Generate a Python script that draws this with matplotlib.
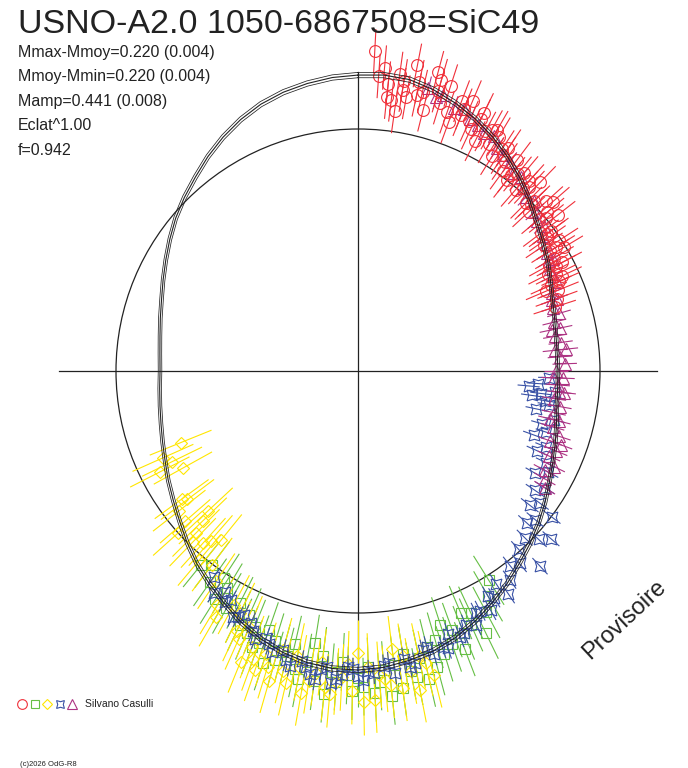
import numpy as np
import matplotlib.pyplot as plt
from matplotlib.collections import LineCollection
from matplotlib.patches import Circle

plt.rcParams['font.family'] = ['Liberation Sans', 'DejaVu Sans']

# Courbe modele : phase (degres) et ecart en magnitude
model_phase = [0, 5, 10, 15, 20, 25, 30, 35, 40, 45, 50, 55, 60, 65, 70, 75, 80, 85,
               90, 95, 100, 105, 110, 115, 120, 125, 130, 135, 140, 145, 150, 155, 160, 165, 170, 175,
               180, 185, 190, 195, 200, 205, 210, 215, 220, 225, 230, 235, 240, 245, 250, 255, 260, 265,
               270, 275, 280, 285, 290, 295, 300, 305, 310, 315, 320, 325, 330, 335, 340, 345, 350, 355]
model_dm = [-0.221, -0.226, -0.221, -0.200, -0.172, -0.140, -0.104, -0.064, -0.023, 0.020, 0.062, 0.096,
            0.125, 0.155, 0.179, 0.195, 0.206, 0.211, 0.211, 0.209, 0.202, 0.186, 0.166, 0.143,
            0.116, 0.083, 0.049, 0.015, -0.019, -0.058, -0.095, -0.133, -0.167, -0.194, -0.212, -0.228,
            -0.235, -0.233, -0.221, -0.200, -0.172, -0.136, -0.095, -0.057, -0.019, 0.022, 0.062, 0.096,
            0.125, 0.153, 0.175, 0.193, 0.206, 0.215, 0.220, 0.216, 0.206, 0.190, 0.170, 0.143,
            0.112, 0.077, 0.040, 0.006, -0.028, -0.067, -0.104, -0.138, -0.167, -0.188, -0.203, -0.215]

# Mesures (phase en degres, ecart en magnitude)
red_phase = [3, 4, 5, 6, 6, 7, 8, 8, 9, 10, 11, 12, 13, 14, 15, 16, 17, 18, 19, 20,
             21, 22, 23, 24, 25, 26, 27, 28, 29, 30, 31, 32, 33, 34, 35, 36, 37, 38, 39, 40,
             41, 42, 43, 44, 45, 46, 47, 48, 49, 50, 51, 52, 53, 54, 55, 56, 57, 58, 59, 60,
             61, 62, 63, 64, 65, 66, 67, 68, 70, 72,
             22, 26, 30, 34, 38, 42, 46, 50, 54, 58, 62, 66, 9, 12, 16]
red_dm = [-0.33, -0.22, -0.26, -0.19, -0.13, -0.12, -0.07, -0.24, -0.17, -0.14,
          -0.29, -0.22, -0.18, -0.10, -0.28, -0.20, -0.15, -0.24, -0.12, -0.08,
          -0.19, -0.16, -0.21, -0.12, -0.09, -0.15, -0.05, -0.11, -0.13, -0.07,
          -0.12, -0.03, -0.08, -0.10, -0.04, 0.00, -0.08, 0.02, -0.03, -0.05,
          0.03, 0.00, -0.02, -0.07, 0.04, 0.01, 0.06, -0.03, -0.05, 0.05,
          0.02, -0.03, 0.08, 0.04, 0.07, 0.10, 0.03, 0.06, 0.03, 0.09,
          0.13, 0.10, 0.15, 0.12, 0.10, 0.16, 0.19, 0.14, 0.16, 0.18,
          -0.13, -0.18, -0.14, -0.06, -0.01, -0.04, 0.03, 0.00, 0.06, 0.09, 0.07, 0.12, -0.21, -0.16, -0.25]

mag_phase = [14, 16, 17, 20, 22, 24, 26, 28, 30, 32, 34, 36, 38, 40, 42, 44, 46, 48, 50, 52,
             54, 56, 58, 60, 62, 64, 66, 68, 70, 72, 74, 76, 78, 80, 82, 84, 86, 88, 90, 92,
             94, 96, 98, 100, 102, 104, 106, 108, 110, 112, 114, 116, 118, 120, 122,
             60, 70, 78, 84, 92, 96, 104, 110]
mag_dm = [-0.20, -0.17, -0.19, -0.15, -0.16, -0.13, -0.12, -0.10, -0.11, -0.07,
          -0.06, -0.05, -0.02, -0.03, 0.00, 0.02, 0.01, 0.04, 0.06, 0.05,
          0.08, 0.09, 0.11, 0.10, 0.13, 0.14, 0.13, 0.17, 0.16, 0.19,
          0.17, 0.20, 0.18, 0.21, 0.19, 0.22, 0.20, 0.18, 0.22, 0.19,
          0.21, 0.18, 0.22, 0.19, 0.21, 0.18, 0.20, 0.16, 0.19, 0.15,
          0.17, 0.13, 0.16, 0.14, 0.12,
          0.12, 0.18, 0.22, 0.17, 0.23, 0.20, 0.22, 0.14]

blue_phase = [92, 94, 95, 96, 97, 98, 99, 100, 102, 104, 106, 108, 110, 112, 114, 116, 118, 120, 122, 124,
              126, 127, 128, 130, 131, 132, 133, 135, 137, 138, 140, 142, 144, 146, 147, 149, 151, 153, 155, 157,
              159, 161, 163, 165, 167, 169, 171, 173, 175, 177, 179, 181, 183, 185, 187, 189, 191, 193, 195, 197,
              199, 201, 203, 205, 207, 209, 211, 213, 215,
              150, 154, 158, 162, 166, 170, 174, 178, 180, 182, 184, 186, 188, 190, 194, 198, 202, 206, 210]
blue_dm = [0.25, 0.30, 0.34, 0.22, 0.28, 0.32, 0.26, 0.24, 0.29, 0.20,
           0.25, 0.22, 0.27, 0.20, 0.23, 0.17, 0.14, 0.19, 0.12, 0.15,
           0.10, 0.02, 0.13, 0.07, -0.04, 0.09, 0.00, 0.05, -0.09, 0.03,
           -0.02, 0.00, -0.05, -0.10, -0.03, -0.08, -0.12, -0.10, -0.15, -0.13,
           -0.17, -0.14, -0.19, -0.21, -0.18, -0.23, -0.20, -0.26, -0.22, -0.25,
           -0.28, -0.23, -0.26, -0.30, -0.24, -0.27, -0.22, -0.25, -0.19, -0.21,
           -0.16, -0.18, -0.12, -0.10, -0.13, -0.07, -0.05, -0.08, -0.02,
           -0.06, -0.10, -0.16, -0.20, -0.17, -0.24, -0.21, -0.24, -0.26, -0.22,
           -0.28, -0.23, -0.29, -0.24, -0.23, -0.18, -0.15, -0.12, -0.09]

green_phase = [148, 150, 152, 154, 155, 157, 158, 160, 161, 162, 163, 165, 166, 167, 168, 170, 171, 172, 174, 175,
               176, 178, 179, 180, 181, 183, 184, 185, 187, 188, 189, 190, 192, 193, 195, 196, 197, 199, 200, 202,
               204, 205, 207, 209, 211, 213, 215, 217, 219,
               156, 159, 164, 169, 173, 177, 182, 186, 191, 194, 198, 201, 203, 206, 210, 212]
green_dm = [0.00, -0.06, -0.12, -0.20, -0.09, -0.07, -0.16, -0.13, -0.19, -0.09,
            -0.22, -0.27, -0.17, -0.31, -0.21, -0.26, -0.18, -0.33, -0.36, -0.24,
            -0.29, -0.22, -0.31, -0.27, -0.33, -0.20, -0.29, -0.25, -0.18, -0.30,
            -0.13, -0.22, -0.26, -0.15, -0.20, -0.24, -0.16, -0.12, -0.19, -0.13,
            -0.09, -0.15, -0.06, -0.11, -0.03, 0.00, -0.05, 0.02, -0.01,
            -0.14, -0.23, -0.15, -0.29, -0.22, -0.34, -0.26, -0.35, -0.30, -0.21,
            -0.27, -0.22, -0.17, -0.12, -0.07, -0.10]

yellow_phase = [166, 168, 170, 172, 173, 175, 177, 178, 180, 181, 183, 185, 187, 189, 191, 193, 195, 197, 199, 201,
                203, 205, 208, 211, 214, 217, 219, 220, 222, 224, 226, 227, 229, 232, 234, 241, 243, 246, 248,
                167, 169, 171, 174, 176, 179, 182, 184, 186, 188, 190, 192, 194, 196, 198, 200, 202, 204, 206, 210,
                221, 225, 228, 233, 244]
yellow_dm = [-0.30, -0.20, -0.26, -0.33, -0.15, -0.28, -0.37, -0.22, -0.16, -0.33,
             -0.27, -0.35, -0.21, -0.30, -0.25, -0.33, -0.19, -0.28, -0.31, -0.22,
             -0.14, -0.18, -0.08, -0.12, -0.03, 0.02, 0.13, 0.00, 0.07, 0.04,
             0.14, 0.19, 0.08, 0.09, 0.13, 0.21, 0.11, 0.15, 0.25,
             -0.24, -0.35, -0.19, -0.31, -0.26, -0.38, -0.21, -0.29, -0.32, -0.26,
             -0.36, -0.20, -0.28, -0.34, -0.23, -0.27, -0.30, -0.21, -0.10, -0.17,
             0.10, 0.08, 0.02, 0.15, 0.18]

# erreur typique par serie (mag)
red_err, mag_err, blue_err, green_err, yellow_err = 0.10, 0.055, 0.05, 0.13, 0.15

# rayon = R0 - K * dm (le cercle de reference a rayon 1)
R0, K = 1.02, 0.918


def polar_xy(phase, dm):
    th = np.radians(np.asarray(phase, dtype=float))
    r = R0 - K * np.asarray(dm, dtype=float)
    return r * np.sin(th), r * np.cos(th)


def radial_bars(phase, dm, err):
    th = np.radians(np.asarray(phase, dtype=float))
    dm = np.asarray(dm, dtype=float)
    r1 = R0 - K * (dm + err)
    r2 = R0 - K * (dm - err)
    return [[(a * np.sin(t), a * np.cos(t)), (b * np.sin(t), b * np.cos(t))]
            for t, a, b in zip(th, r1, r2)]


fig = plt.figure(figsize=(6.88, 7.68), dpi=100)
ax = fig.add_axes([0, 0, 1, 1])
ax.set_xlim(-358 / 242, 330 / 242)
ax.set_ylim(-397 / 242, 371 / 242)
ax.axis('off')

# axes et cercle de reference
ext = 1.235
ax.plot([-ext, ext], [0, 0], color='#222222', lw=0.9, zorder=1)
ax.plot([0, 0], [-ext, ext], color='#222222', lw=0.9, zorder=1)
ax.add_patch(Circle((0, 0), 1.0, fill=False, ec='#222222', lw=0.9, zorder=1))

series = [
    (green_phase, green_dm, green_err, '#66bf45', 's', 7.5),
    (yellow_phase, yellow_dm, yellow_err, '#ffe600', 'D', 6.5),
    (blue_phase, blue_dm, blue_err, '#3a52a6', (4, 1, 45), 11),
    (mag_phase, mag_dm, mag_err, '#ad3383', '^', 8.5),
    (red_phase, red_dm, red_err, '#f0303a', 'o', 8.5),
]
for i, (ph, dm, err, col, mk, ms) in enumerate(series):
    lc = LineCollection(radial_bars(ph, dm, err), colors=col, linewidths=0.8, zorder=2 + i)
    ax.add_collection(lc)
    x, y = polar_xy(ph, dm)
    ax.plot(x, y, ls='none', marker=mk, ms=ms, mfc='none', mec=col, mew=0.8, zorder=2 + i)

# courbe modele (trait triple)
mx, my = polar_xy(model_phase + [model_phase[0]], model_dm + [model_dm[0]])
for s, lw in [(1.0, 0.8), (1.009, 0.55), (0.991, 0.55)]:
    ax.plot(mx * s, my * s, color='#222222', lw=lw, zorder=10)

# textes
fig.text(18 / 688, 1 - 33 / 768, 'USNO-A2.0 1050-6867508=SiC49', fontsize=24.5, color='#222222', va='baseline')
stats = ['Mmax-Mmoy=0.220 (0.004)', 'Mmoy-Mmin=0.220 (0.004)', 'Mamp=0.441 (0.008)', 'Eclat^1.00', 'f=0.942']
for k, s in enumerate(stats):
    fig.text(18 / 688, 1 - (57 + 24.5 * k) / 768, s, fontsize=11.5, color='#222222', va='baseline')

fig.text(624 / 688, 1 - 620 / 768, 'Provisoire', fontsize=17, rotation=43, color='#222222',
         ha='center', va='center', rotation_mode='anchor')

# legende des symboles
leg = [('o', '#f0303a', 7), ('s', '#66bf45', 5.5), ('D', '#ffe600', 5), ((4, 1, 45), '#3a52a6', 8), ('^', '#ad3383', 6.5)]
for k, (mk, col, ms) in enumerate(leg):
    ax.plot([(22 + 12.5 * k) / 688], [1 - 704 / 768], marker=mk, ms=ms, mfc='none', mec=col, mew=0.8,
            transform=fig.transFigure, clip_on=False)
fig.text(85 / 688, 1 - 704 / 768, 'Silvano Casulli', fontsize=7.5, color='#222222', va='center')
fig.text(20 / 688, 1 - 766 / 768, '(c)2026 OdG-R8', fontsize=5.5, color='#222222', va='baseline')

fig.savefig('out.png', dpi=100)
